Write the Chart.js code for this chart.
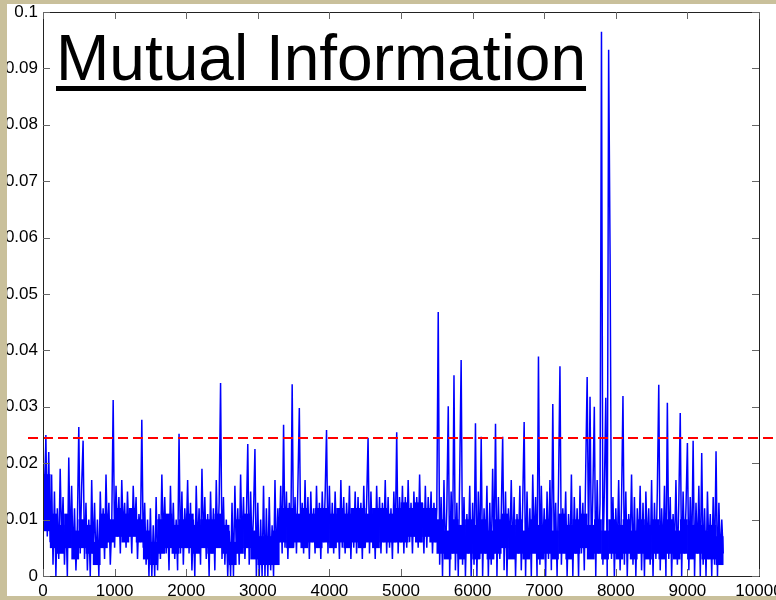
<!DOCTYPE html>
<html>
<head>
<meta charset="utf-8">
<script src="https://cdn.jsdelivr.net/npm/chart.js@4/dist/chart.umd.min.js"></script>
<style>
  html, body { margin: 0; padding: 0; background: #c9c09b; }
  #wrap { position: relative; width: 776px; height: 600px; overflow: hidden; }
  #chart { position: absolute; left: 0; top: 0; }
  #title {
    position: absolute; left: 56px; top: 26px;
    font-family: "Liberation Sans", Arial, sans-serif;
    font-size: 64px; line-height: 64px; color: #000;
    text-decoration: underline; text-decoration-thickness: 5px;
    text-underline-offset: 6px; white-space: nowrap;
  }
</style>
</head>
<body>
<div id="wrap">
  <canvas id="chart" width="776" height="600"></canvas>
  <div id="title">Mutual Information</div>
</div>
<script>
// Data, one value every STEP samples
const STEP = 20;
const miValues = [
  .026, .009, .025, .007, .022, .006, .018, .002, .015, .000, .012, .003, .019, .006, .014, .002, .011, .000, .021, .005, .016, .003, .012, .001, .009,
  .0264, .004, .016, .024, .003, .013, .001, .010, .000, .017, .004, .013, .002, .010, .000, .015, .005, .012, .003, .018, .006, .013, .002, .009, .0312,
  .005, .016, .007, .014, .004, .017, .008, .013, .005, .015, .007, .012, .004, .016, .008, .014, .003, .011, .006, .0277, .005, .013, .002, .010, .000,
  .012, .000, .009, .000, .014, .001, .011, .003, .018, .006, .014, .004, .011, .001, .016, .005, .013, .003, .010, .001, .0252, .004, .015, .002, .012,
  .006, .017, .004, .013, .001, .010, .000, .016, .005, .012, .002, .019, .006, .014, .003, .011, .000, .015, .004, .012, .001, .017, .005, .013, .0342,
  .003, .014, .002, .010, .000, .008, .000, .013, .000, .016, .004, .012, .002, .018, .005, .014, .003, .010, .0234, .002, .015, .004, .011, .0225, .000,
  .013, .000, .010, .000, .016, .000, .012, .000, .014, .001, .009, .000, .017, .002, .012, .006, .016, .004, .0268, .005, .015, .003, .013, .006, .034,
  .005, .014, .004, .016, .0298, .006, .013, .004, .017, .005, .014, .003, .015, .006, .012, .004, .016, .005, .013, .003, .015, .006, .014, .0259, .004,
  .016, .005, .013, .004, .015, .006, .012, .003, .017, .005, .014, .004, .013, .006, .016, .003, .012, .005, .015, .004, .014, .006, .013, .003, .016,
  .005, .013, .0245, .004, .015, .006, .012, .003, .016, .005, .014, .004, .013, .006, .017, .004, .014, .005, .012, .003, .015, .006, .0255, .004, .014,
  .006, .016, .004, .014, .005, .017, .006, .013, .004, .015, .007, .014, .005, .018, .006, .013, .004, .016, .005, .014, .007, .015, .004, .013, .006,
  .012, .0468, .002, .014, .000, .017, .003, .012, .0301, .000, .015, .004, .0356, .001, .013, .000, .018, .0383, .002, .014, .000, .011, .004, .016, .000,
  .013, .002, .0271, .000, .015, .003, .0247, .000, .012, .004, .016, .000, .013, .002, .019, .004, .027, .000, .014, .003, .011, .0247, .001, .015, .000,
  .012, .005, .017, .003, .014, .000, .011, .004, .016, .001, .013, .0273, .000, .015, .003, .012, .000, .018, .005, .014, .000, .0389, .002, .016, .004,
  .012, .000, .015, .003, .017, .001, .0305, .004, .013, .000, .016, .0372, .002, .012, .005, .015, .000, .011, .003, .018, .000, .014, .004, .012, .000,
  .016, .004, .013, .001, .019, .0353, .005, .0318, .003, .015, .030, .000, .017, .004, .013, .0965, .002, .015, .0316, .000, .0933, .0571, .003, .014, .000,
  .012, .004, .017, .001, .013, .0319, .002, .015, .000, .011, .005, .018, .002, .014, .000, .012, .004, .016, .001, .013, .000, .015, .005, .012, .002,
  .017, .000, .013, .003, .015, .0339, .001, .012, .004, .016, .000, .0307, .003, .014, .000, .011, .005, .017, .002, .013, .0289, .000, .015, .004, .012,
  .0236, .001, .014, .003, .024, .000, .013, .004, .016, .000, .0218, .002, .012, .000, .015, .004, .011, .000, .014, .002, .0221, .000, .013, .003, .010,
  .004
];

// Dense core of the trace, per 100-sample bin (lower / upper edge of the solid blue)
const BAND_STEP = 100;
const bandLow = [
  .008, .005, .004, .005, .003, .005, .004, .002, .005, .006,
  .007, .006, .007, .006, .003, .002, .004, .005, .004, .005,
  .005, .004, .005, .004, .005, .004, .002, .004, .005, .003,
  .002, .002, .002, .006, .005, .006, .005, .006, .005, .006,
  .005, .006, .005, .006, .005, .006, .005, .006, .006, .006,
  .006, .007, .006, .007, .006, .004, .003, .004, .003, .004,
  .003, .004, .003, .004, .005, .003, .004, .003, .004, .003,
  .004, .003, .004, .003, .004, .005, .003, .004, .003, .004,
  .003, .004, .003, .004, .003, .004, .003, .004, .003, .004,
  .003, .004, .003, .003, .002
];
const bandHigh = [
  .018, .011, .009, .011, .008, .010, .009, .006, .011, .010,
  .012, .011, .012, .010, .008, .006, .010, .011, .009, .010,
  .011, .009, .010, .010, .011, .009, .006, .010, .011, .008,
  .007, .007, .008, .012, .012, .011, .012, .011, .012, .012,
  .011, .012, .011, .012, .012, .011, .012, .012, .011, .012,
  .013, .012, .013, .012, .012, .010, .008, .010, .009, .010,
  .009, .010, .008, .010, .011, .009, .010, .008, .010, .009,
  .010, .008, .011, .009, .010, .011, .009, .010, .008, .010,
  .009, .010, .008, .010, .009, .010, .009, .010, .008, .010,
  .009, .009, .008, .009, .007
];

const xTicks = [0, 1000, 2000, 3000, 4000, 5000, 6000, 7000, 8000, 9000, 10000];
const yTicks = [0, 0.01, 0.02, 0.03, 0.04, 0.05, 0.06, 0.07, 0.08, 0.09, 0.1];
const threshold = 0.0244;

const points = miValues.map((v, i) => ({ x: i * STEP, y: v }));
const band = bandLow.map((lo, i) => ({ x: i * BAND_STEP + BAND_STEP / 2, y: [lo, bandHigh[i]] }));

// White slide, threshold line, box with inward ticks, beige frame on top
const framePlugin = {
  id: "frame",
  beforeDraw(chart) {
    const c = chart.ctx;
    c.save();
    c.fillStyle = "#fff";
    c.fillRect(0, 0, chart.width, chart.height);
    c.restore();
  },
  afterDatasetsDraw(chart) {
    const c = chart.ctx;
    const a = chart.chartArea;
    const y = chart.scales.y.getPixelForValue(threshold);
    c.save();
    c.strokeStyle = "#ff0000";
    c.lineWidth = 2;
    c.setLineDash([10, 5]);
    c.beginPath();
    c.moveTo(28, Math.round(y));
    c.lineTo(chart.width, Math.round(y));
    c.stroke();
    c.restore();

    c.save();
    c.strokeStyle = "#222";
    c.lineWidth = 1;
    c.strokeRect(a.left + 0.5, a.top + 0.5, a.right - a.left, a.bottom - a.top);
    c.strokeStyle = "#666";
    c.beginPath();
    const tl = 7;
    xTicks.forEach(v => {
      const px = Math.round(chart.scales.x.getPixelForValue(v)) + 0.5;
      c.moveTo(px, a.bottom); c.lineTo(px, a.bottom - tl);
      c.moveTo(px, a.top); c.lineTo(px, a.top + tl);
    });
    yTicks.forEach(v => {
      const py = Math.round(chart.scales.y.getPixelForValue(v)) + 0.5;
      c.moveTo(a.left, py); c.lineTo(a.left + tl, py);
      c.moveTo(a.right, py); c.lineTo(a.right - tl, py);
    });
    c.stroke();
    c.restore();
  },
  afterDraw(chart) {
    const c = chart.ctx;
    c.save();
    c.fillStyle = "#c9c09b";
    c.fillRect(0, 0, 7, chart.height);
    c.fillRect(0, 0, chart.width, 4);
    c.fillRect(0, 596, chart.width, 4);
    c.restore();
  }
};

new Chart(document.getElementById("chart"), {
  type: "line",
  data: {
    datasets: [
      {
        type: "line",
        data: points,
        borderColor: "#0000ff",
        borderWidth: 1.5,
        pointRadius: 0,
        tension: 0,
        fill: false,
        order: 0
      },
      {
        type: "bar",
        data: band,
        backgroundColor: "#0000ff",
        borderWidth: 0,
        barPercentage: 1,
        categoryPercentage: 1,
        grouped: false,
        order: 1
      }
    ]
  },
  options: {
    responsive: false,
    animation: false,
    devicePixelRatio: 1,
    layout: { padding: { left: 0, top: 12, right: 17, bottom: 0 } },
    plugins: { legend: { display: false }, tooltip: { enabled: false } },
    scales: {
      x: {
        type: "linear", min: 0, max: 10000, offset: false,
        afterBuildTicks: s => { s.ticks = xTicks.map(v => ({ value: v })); },
        afterFit: s => { s.height = 24; s.paddingLeft = 0; s.paddingRight = 0; },
        grid: { display: false, drawTicks: false, offset: false },
        border: { display: false },
        ticks: {
          color: "#000", padding: 5, maxRotation: 0, autoSkip: false,
          font: { family: "'Liberation Sans', Arial, sans-serif", size: 17 },
          callback: v => String(v)
        }
      },
      y: {
        min: 0, max: 0.1,
        afterBuildTicks: s => { s.ticks = yTicks.map(v => ({ value: v })); },
        afterFit: s => { s.width = 43; s.paddingTop = 0; s.paddingBottom = 0; },
        grid: { display: false, drawTicks: false },
        border: { display: false },
        ticks: {
          color: "#000", padding: 5, autoSkip: false,
          font: { family: "'Liberation Sans', Arial, sans-serif", size: 17 },
          callback: v => String(+v.toFixed(3))
        }
      }
    }
  },
  plugins: [framePlugin]
});
</script>
</body>
</html>
